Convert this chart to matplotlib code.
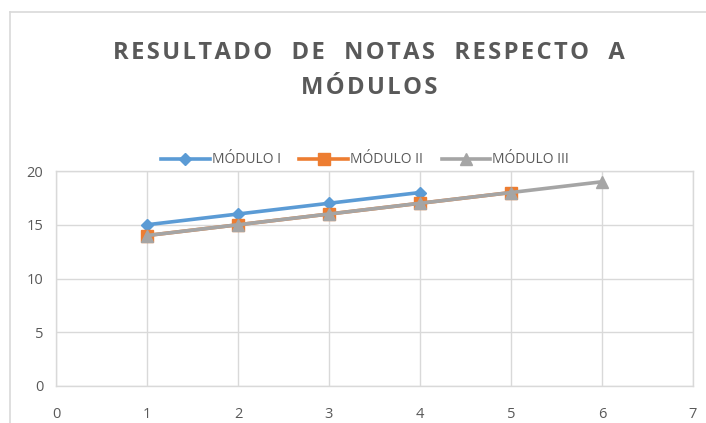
import matplotlib.pyplot as plt
from matplotlib.lines import Line2D

plt.rcParams['font.family'] = ['Open Sans', 'DejaVu Sans']

x_mod1 = [1, 2, 3, 4]
y_mod1 = [15, 16, 17, 18]
x_mod2 = [1, 2, 3, 4, 5]
y_mod2 = [14, 15, 16, 17, 18]
x_mod3 = [1, 2, 3, 4, 5, 6]
y_mod3 = [14, 15, 16, 17, 18, 19]
labels = ['MÓDULO I', 'MÓDULO II', 'MÓDULO III']
title_lines = ['RESULTADO  DE  NOTAS  RESPECTO  A', 'MÓDULOS']

text_col = '#595959'
grid_col = '#D9D9D9'


def spaced(s):
    # widen the letter spacing like the original title
    return '\u200a'.join(s)


fig = plt.figure(figsize=(7.06, 4.23), dpi=100)
ax = fig.add_axes([0.0793, 0.0875, 0.9023, 0.5082])

ax.plot(x_mod1, y_mod1, color='#5B9BD5', lw=2.6, marker='D', ms=6.5, label=labels[0])
ax.plot(x_mod2, y_mod2, color='#ED7D31', lw=2.6, marker='s', ms=8.5, label=labels[1])
ax.plot(x_mod3, y_mod3, color='#A5A5A5', lw=2.6, marker='^', ms=9, label=labels[2])

ax.set_xlim(0, 7)
ax.set_ylim(0, 20)
ax.set_xticks(range(0, 8))
ax.set_yticks([0, 5, 10, 15, 20])
ax.grid(True, color=grid_col, lw=1)
ax.set_axisbelow(True)
for s in ax.spines.values():
    s.set_color(grid_col)
    s.set_linewidth(1)
ax.tick_params(length=0, labelsize=10.5, labelcolor=text_col)
ax.tick_params(axis='x', pad=15)
ax.tick_params(axis='y', pad=9)

title = '\n'.join(spaced(t) for t in title_lines)
fig.text(0.523, 0.833, title, ha='center', va='center', fontsize=17.1, fontweight='bold',
         color=text_col, linespacing=1.6)

handles = [Line2D([], [], color=c, lw=2.6, marker=m, ms=s)
           for c, m, s in [('#5B9BD5', 'D', 6.5), ('#ED7D31', 's', 8.5), ('#A5A5A5', '^', 9)]]
fig.legend(handles, labels, loc='center', bbox_to_anchor=(0.517, 0.622), ncol=3, frameon=False,
           fontsize=10, labelcolor=text_col, handlelength=3.5, handletextpad=0.15, columnspacing=1.35)

# chart frame edges visible in the crop
fig.add_artist(Line2D([10 / 706, 1], [1 - 12 / 423, 1 - 12 / 423], transform=fig.transFigure,
                      color=grid_col, lw=1.2))
fig.add_artist(Line2D([10 / 706, 10 / 706], [0, 1 - 12 / 423], transform=fig.transFigure,
                      color=grid_col, lw=1.2))

fig.savefig('out.png', dpi=100)
